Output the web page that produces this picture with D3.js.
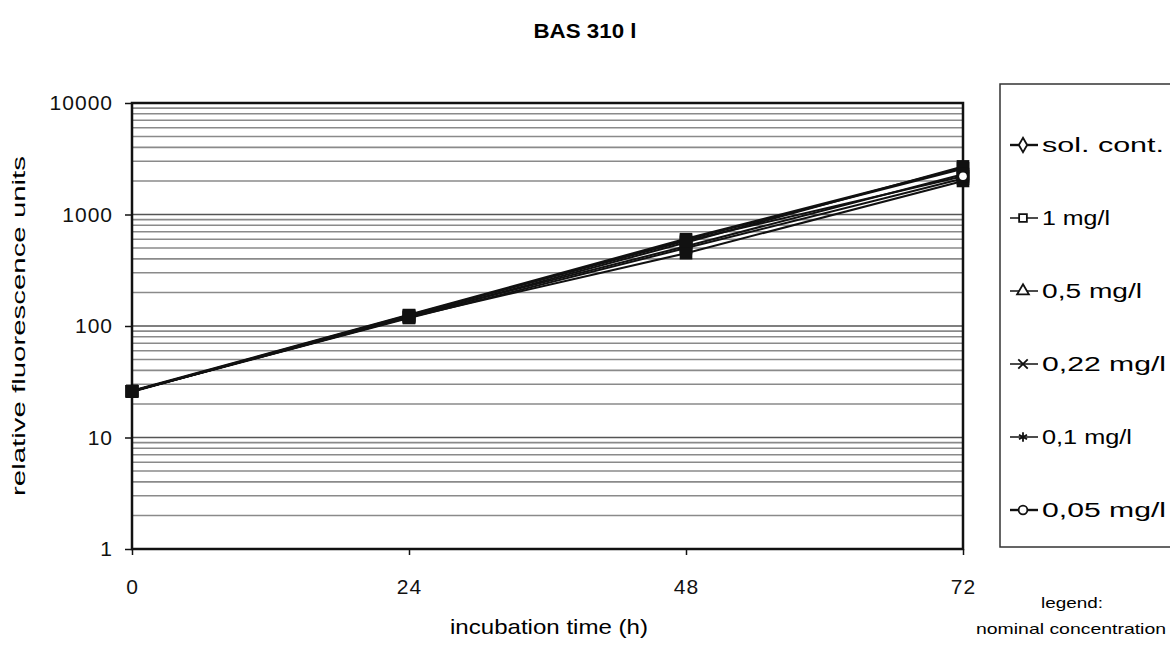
<!DOCTYPE html>
<meta charset="utf-8">
<style>
body { margin: 0; background: #fff; }
svg { font-family: "Liberation Sans", Arial, sans-serif; }
.grid line { stroke: #8a8a8a; stroke-width: 1.6px; }
.axis path, .axis line { stroke: #111; stroke-width: 1.5px; }
.axis text { font-size: 21px; fill: #111; letter-spacing: 1px; }
</style>
<body></body>
<script src="https://cdnjs.cloudflare.com/ajax/libs/d3/7.8.5/d3.min.js"></script>
<script>

// incubation time (h)
var times = [0, 24, 48, 72];

// legend labels (nominal concentration)
var seriesNames = ["sol. cont.", "1 mg/l", "0,5 mg/l", "0,22 mg/l", "0,1 mg/l", "0,05 mg/l"];
var seriesSymbols = ["diamond", "square", "triangle", "cross", "star", "circle"];

// relative fluorescence units
var solCont = [26, 125, 600, 2600];
var conc1 = [26, 120, 560, 2700];
var conc05 = [26, 122, 520, 2300];
var conc022 = [26, 118, 500, 2100];
var conc01 = [26, 120, 450, 2000];
var conc005 = [26, 125, 580, 2200];

var yTicks = [1, 10, 100, 1000, 10000];

var seriesValues = [solCont, conc1, conc05, conc022, conc01, conc005];

var width = 1170, height = 648;
var margin = {left: 132, right: 207, top: 103, bottom: 99};

var svg = d3.select("body").append("svg")
    .attr("width", width)
    .attr("height", height);

var x = d3.scaleLinear().domain([0, 72]).range([margin.left, width - margin.right]);
var y = d3.scaleLog().domain([1, 10000]).range([height - margin.bottom, margin.top]);

// minor + major gridlines
var gridVals = [];
for (var e = 0; e < 4; e++) {
  for (var m = 1; m <= 10; m++) {
    var v = m * Math.pow(10, e);
    if (v > 1 && gridVals.indexOf(v) < 0) gridVals.push(v);
  }
}
svg.append("g").attr("class", "grid")
  .selectAll("line").data(gridVals)
  .enter().append("line")
    .attr("x1", x(0)).attr("x2", x(72))
    .attr("y1", d => y(d)).attr("y2", d => y(d))
    .style("stroke", d => (Math.log10(d) % 1 === 0) ? "#555" : null);

// frame
svg.append("rect")
    .attr("x", x(0)).attr("y", y(10000))
    .attr("width", x(72) - x(0)).attr("height", y(1) - y(10000))
    .attr("fill", "none").attr("stroke", "#111").attr("stroke-width", 2.5);

var xAxis = svg.append("g").attr("class", "axis")
    .attr("transform", "translate(0," + y(1) + ")")
    .call(d3.axisBottom(x).tickValues(times).tickSize(6).tickPadding(24).tickFormat(d3.format("d")));
xAxis.select(".domain").remove();

var yAxis = svg.append("g").attr("class", "axis")
    .attr("transform", "translate(" + x(0) + ",0)")
    .call(d3.axisLeft(y).tickValues(yTicks).tickSize(7).tickPadding(12).tickFormat(d3.format("d")));
yAxis.select(".domain").remove();

// series lines
var line = d3.line().x((d, i) => x(times[i])).y(d => y(d));
var shapes = {
  diamond: d3.symbolDiamond, square: d3.symbolSquare, triangle: d3.symbolTriangle,
  cross: d3.symbolX, star: d3.symbolAsterisk, circle: d3.symbolCircle
};

svg.append("g").selectAll("path")
  .data(seriesValues)
  .enter().append("path")
    .attr("d", line)
    .attr("fill", "none")
    .attr("stroke", "#111")
    .attr("stroke-width", (d, i) => i === 0 ? 3 : 2);

// markers (they pile up into black blobs in the original)
seriesValues.forEach(function(vals, si) {
  svg.append("g").selectAll("path")
    .data(vals)
    .enter().append("path")
      .attr("transform", (d, i) => "translate(" + x(times[i]) + "," + y(d) + ")")
      .attr("d", d3.symbol().type(d3.symbolSquare).size(160))
      .attr("fill", "#111");
});
// the white circle seen at the last point
svg.append("circle")
    .attr("cx", x(72)).attr("cy", y(conc005[3]))
    .attr("r", 3.8).attr("fill", "#fff");

// titles
svg.append("text")
    .attr("x", 585).attr("y", 38)
    .attr("text-anchor", "middle")
    .attr("textLength", 103).attr("lengthAdjust", "spacingAndGlyphs")
    .style("font-size", "20px").style("font-weight", "bold")
    .text("BAS 310 l");

svg.append("text")
    .attr("transform", "translate(25," + 326 + ") rotate(-90)")
    .attr("text-anchor", "middle")
    .attr("textLength", 340).attr("lengthAdjust", "spacingAndGlyphs")
    .style("font-size", "19px")
    .text("relative fluorescence units");

svg.append("text")
    .attr("x", 549).attr("y", 634)
    .attr("text-anchor", "middle")
    .attr("textLength", 198).attr("lengthAdjust", "spacingAndGlyphs")
    .style("font-size", "21px")
    .text("incubation time (h)");

// legend
var lg = svg.append("g");
lg.append("rect")
    .attr("x", 1000).attr("y", 84)
    .attr("width", 180).attr("height", 463)
    .attr("fill", "#fff").attr("stroke", "#333").attr("stroke-width", 1.5);

var legendWidths = [122, 68, 100, 124, 90, 124];

var item = lg.selectAll("g.item")
  .data(seriesNames)
  .enter().append("g")
    .attr("class", "item")
    .attr("transform", (d, i) => "translate(1010," + (145 + i * 73) + ")");

item.append("line")
    .attr("x1", 0).attr("x2", 28)
    .attr("stroke", "#111")
    .attr("stroke-width", (d, i) => (i === 0 || i === 5) ? 2.4 : 1.5);
item.append("path")
    .attr("transform", "translate(13,0)")
    .attr("d", (d, i) => d3.symbol().type(shapes[seriesSymbols[i]]).size(60)())
    .attr("fill", (d, i) => (seriesSymbols[i] === "cross" || seriesSymbols[i] === "star") ? "none" : "#fff")
    .attr("stroke", "#111").attr("stroke-width", 1.8);
item.append("text")
    .attr("x", 32).attr("y", 7)
    .attr("textLength", (d, i) => legendWidths[i]).attr("lengthAdjust", "spacingAndGlyphs")
    .style("font-size", "20px")
    .text(d => d);

svg.append("text")
    .attr("x", 1072).attr("y", 608)
    .attr("text-anchor", "middle")
    .attr("textLength", 62).attr("lengthAdjust", "spacingAndGlyphs")
    .style("font-size", "15px")
    .text("legend:");
svg.append("text")
    .attr("x", 1071).attr("y", 634)
    .attr("text-anchor", "middle")
    .attr("textLength", 190).attr("lengthAdjust", "spacingAndGlyphs")
    .style("font-size", "15px")
    .text("nominal concentration");

</script>
